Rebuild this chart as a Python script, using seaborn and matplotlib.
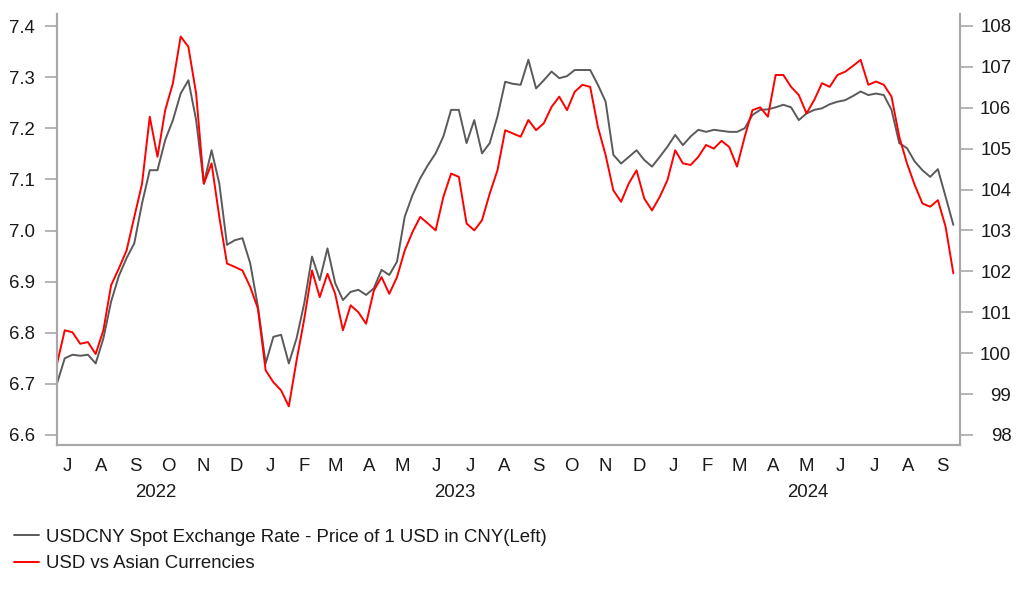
import matplotlib
matplotlib.use('Agg')
import matplotlib.pyplot as plt
import matplotlib.dates as mdates
import matplotlib.transforms as mtransforms
from matplotlib.ticker import NullFormatter
import seaborn as sns
import pandas as pd

# weekly readings, Jul 2022 - Sep 2024
dates = pd.date_range("2022-07-07", periods=117, freq="7D")

usdcny = [
    6.701, 6.750, 6.757, 6.755, 6.757, 6.740, 6.789, 6.861, 6.911, 6.946,
    6.975, 7.053, 7.118, 7.118, 7.177, 7.216, 7.268, 7.294, 7.216, 7.092,
    7.157, 7.092, 6.972, 6.981, 6.985, 6.936, 6.851, 6.740, 6.792, 6.796,
    6.740, 6.789, 6.858, 6.949, 6.903, 6.965, 6.897, 6.864, 6.880, 6.884,
    6.874, 6.887, 6.923, 6.913, 6.939, 7.027, 7.069, 7.102, 7.128, 7.151,
    7.184, 7.236, 7.236, 7.171, 7.216, 7.151, 7.171, 7.223, 7.291, 7.287,
    7.285, 7.334, 7.278, 7.294, 7.311, 7.298, 7.302, 7.314, 7.314, 7.314,
    7.285, 7.252, 7.148, 7.131, 7.144, 7.157, 7.138, 7.125, 7.144, 7.164,
    7.187, 7.167, 7.184, 7.197, 7.193, 7.197, 7.195, 7.193, 7.193, 7.200,
    7.226, 7.236, 7.237, 7.241, 7.246, 7.241, 7.216, 7.229, 7.236, 7.239,
    7.247, 7.252, 7.255, 7.263, 7.272, 7.265, 7.268, 7.265, 7.236, 7.171,
    7.161, 7.135, 7.118, 7.105, 7.120, 7.066, 7.011,
]

usd_asia = [
    99.74, 100.56, 100.51, 100.23, 100.27, 99.98, 100.56, 101.66, 102.07, 102.51,
    103.33, 104.14, 105.78, 104.80, 105.94, 106.60, 107.74, 107.49, 106.35, 104.14,
    104.64, 103.33, 102.19, 102.11, 102.02, 101.62, 101.09, 99.58, 99.29, 99.09,
    98.70, 99.82, 100.84, 102.02, 101.37, 101.94, 101.45, 100.56, 101.17, 101.00,
    100.72, 101.53, 101.86, 101.45, 101.86, 102.51, 102.96, 103.33, 103.17, 103.00,
    103.82, 104.39, 104.31, 103.17, 103.00, 103.25, 103.90, 104.47, 105.45, 105.37,
    105.29, 105.70, 105.45, 105.62, 106.02, 106.27, 105.94, 106.39, 106.56, 106.51,
    105.53, 104.84, 103.98, 103.70, 104.15, 104.47, 103.78, 103.49, 103.82, 104.23,
    104.96, 104.64, 104.60, 104.80, 105.09, 105.00, 105.19, 105.04, 104.56, 105.29,
    105.94, 106.01, 105.78, 106.80, 106.80, 106.51, 106.31, 105.86, 106.19, 106.60,
    106.51, 106.80, 106.88, 107.02, 107.17, 106.56, 106.64, 106.56, 106.27, 105.29,
    104.64, 104.11, 103.66, 103.58, 103.74, 103.09, 101.95,
]

left_ticks = [6.6, 6.7, 6.8, 6.9, 7.0, 7.1, 7.2, 7.3, 7.4]
right_ticks = [98, 99, 100, 101, 102, 103, 104, 105, 106, 107, 108]
month_letters = ["J", "A", "S", "O", "N", "D",
                 "J", "F", "M", "A", "M", "J", "J", "A", "S", "O", "N", "D",
                 "J", "F", "M", "A", "M", "J", "J", "A", "S"]
years = ["2022", "2023", "2024"]
labels = ["USDCNY Spot Exchange Rate - Price of 1 USD in CNY(Left)",
          "USD vs Asian Currencies"]

sns.set_style("white")
plt.rcParams['font.family'] = ['Liberation Sans', 'DejaVu Sans']
fs = 13.4
txt_c = '#1a1a1a'
axis_c = '#a8a8a8'

fig = plt.figure(figsize=(10.22, 5.97), dpi=100)
ax = fig.add_axes([0.0558, 0.2546, 0.8835, 0.7219])
ax2 = ax.twinx()

sns.lineplot(x=dates, y=usdcny, ax=ax, color='#5a5a5a', lw=1.4, label=labels[0])
sns.lineplot(x=dates, y=usd_asia, ax=ax2, color='#ff0000', lw=1.4, label=labels[1])
h1, l1 = ax.get_legend_handles_labels()
h2, l2 = ax2.get_legend_handles_labels()
ax.get_legend().remove()
ax2.get_legend().remove()

x0 = pd.Timestamp("2022-07-07")
x1 = pd.Timestamp("2024-10-02")
ax.set_xlim(x0, x1)
ax.set_ylim(6.5804, 7.4235)
ax2.set_ylim(97.755, 108.29)

ax.set_yticks(left_ticks)
ax.set_yticklabels([f"{v:.1f}" for v in left_ticks])
ax2.set_yticks(right_ticks)
ax2.set_yticklabels([str(v) for v in right_ticks])
for lab in ax2.get_yticklabels():
    lab.set_horizontalalignment('right')

ax.xaxis.set_major_locator(mdates.YearLocator())
ax.xaxis.set_minor_locator(mdates.MonthLocator())
ax.xaxis.set_major_formatter(NullFormatter())
ax.xaxis.set_minor_formatter(NullFormatter())
ax.tick_params(axis='x', which='major', length=10, width=1.2, color=axis_c, direction='out')
ax.tick_params(axis='x', which='minor', length=5, width=1, color='#d0d0d0', direction='out')
ax.tick_params(axis='y', length=9, width=1.2, color=axis_c, labelsize=fs,
               labelcolor=txt_c, pad=7, left=True)
ax2.tick_params(axis='y', length=9, width=1.2, color=axis_c, labelsize=fs,
                labelcolor=txt_c, pad=28, right=True)
ax.set_xlabel("")
ax.set_ylabel("")
ax2.set_ylabel("")

for a in (ax, ax2):
    a.spines['top'].set_visible(False)
    for s in ('left', 'right', 'bottom'):
        a.spines[s].set_color(axis_c)
        a.spines[s].set_linewidth(1.5)

trans = mtransforms.blended_transform_factory(ax.transData, ax.transAxes)
months = pd.date_range("2022-07-01", periods=len(month_letters), freq="MS")
for m, letter in zip(months, month_letters):
    ax.text(m + pd.Timedelta(days=15), -0.051, letter, transform=trans,
            ha='center', va='center', fontsize=fs, color=txt_c)

year_spans = [(x0, pd.Timestamp("2023-01-01")),
              (pd.Timestamp("2023-01-01"), pd.Timestamp("2024-01-01")),
              (pd.Timestamp("2024-01-01"), x1)]
for (a, b), yr in zip(year_spans, years):
    ax.text(a + (b - a) / 2, -0.111, yr, transform=trans,
            ha='center', va='center', fontsize=fs, color=txt_c)

fig.legend(h1 + h2, l1 + l2, loc='upper left', bbox_to_anchor=(0.014, 0.1146),
           frameon=False, fontsize=fs, handlelength=1.35, handletextpad=0.35,
           labelspacing=0.515, borderpad=0, borderaxespad=0, labelcolor=txt_c)

fig.savefig("out.png", dpi=100)
